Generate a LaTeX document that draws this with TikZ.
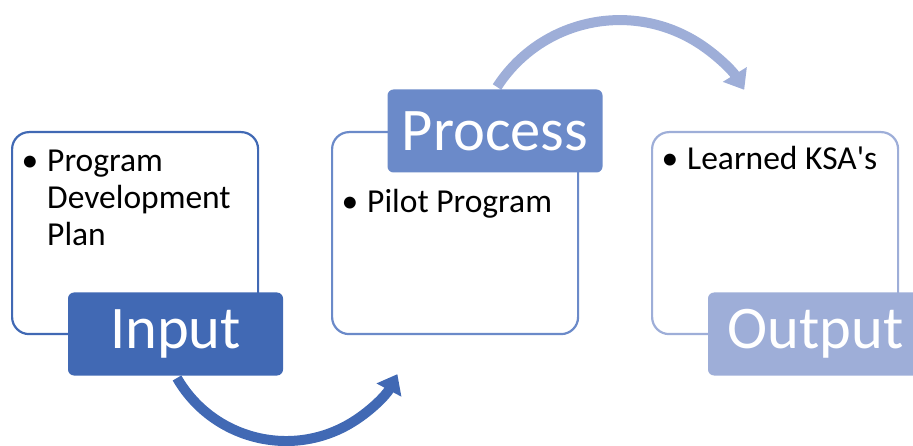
\documentclass[tikz,border=0pt]{standalone}
\usepackage{fontspec}
\setmainfont{Carlito}
\newfontfamily\plainq{Carlito}[Ligatures=TeXOff]
\usetikzlibrary{arrows.meta}
\definecolor{cA}{RGB}{65,105,180}
\definecolor{cB}{RGB}{107,138,201}
\definecolor{cC}{RGB}{158,174,216}
\begin{document}
\begin{tikzpicture}[x=1pt,y=-1pt,
  panel/.style={draw, line width=2.2pt, rounded corners=17pt, fill=white,
    minimum width=246pt, minimum height=202pt, anchor=north west, inner sep=0pt},
  tag/.style={rounded corners=6pt, text=white, inner sep=0pt,
    minimum width=215pt, minimum height=83pt,
    font=\fontsize{60.5}{62}\selectfont},
  dot/.style={anchor=base, inner sep=0pt, font=\fontsize{33.5}{37}\selectfont},
  item/.style={anchor=base west, inner sep=0pt, font=\fontsize{33.5}{37}\selectfont},
  flow/.style={line width=10pt, -{Triangle[width=27pt,length=18pt]}}]
\useasboundingbox (0,0) rectangle (913,446);
\clip (0,0) rectangle (913,446);
% panels
\node[panel, draw=cA] (p1) at (11,131) {};
\node[panel, draw=cB] (p2) at (331,131) {};
\node[panel, draw=cC] (p3) at (651,131) {};
% arcs
\coordinate (a1) at (177,378);
\coordinate (a2) at (497,87);
\draw[flow, cA] (a1) arc[start angle=150, end angle=28, radius=126];
\draw[flow, cC] (a2) arc[start angle=212.8, end angle=328.5, radius=146];
% tags
\node[tag, fill=cA] (t1) at (175.5,334) {Input};
\node[tag, fill=cB] (t2) at (495,131) {Process};
\node[tag, fill=cC] (t3) at (815.5,334) {Output};
% bullet texts
\node[dot] (d1) at (30,172) {\textbullet};
\node[item] (i1) at (47,172) {\parbox[t]{220pt}{\fontsize{33.5}{37}\selectfont Program\\Development\\Plan}};
\node[dot] (d2) at (350,213) {\textbullet};
\node[item] (i2) at (367,213) {Pilot Program};
\node[dot] (d3) at (670,170) {\textbullet};
\node[item] (i3) at (687,170) {\plainq Learned KSA's};
\end{tikzpicture}
\end{document}
